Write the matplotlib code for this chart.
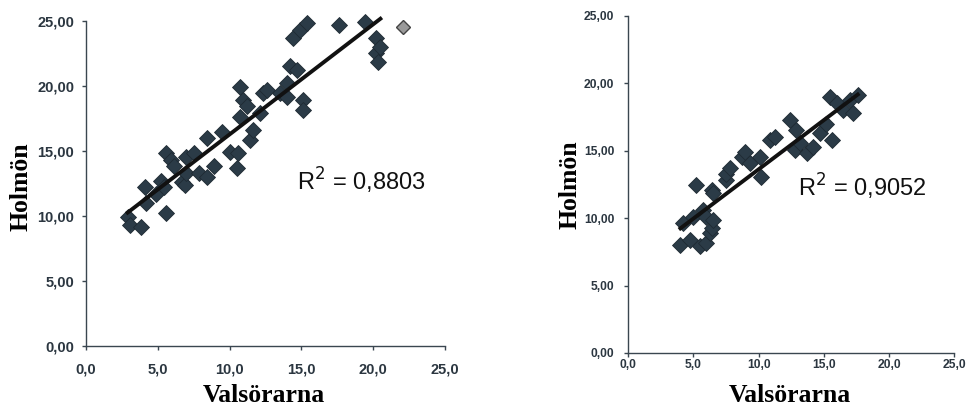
import numpy as np
import matplotlib
matplotlib.use('Agg')
import matplotlib.pyplot as plt
from matplotlib.ticker import FuncFormatter

# Left panel data (Valsörarna vs Holmön)
x_left = [2.9, 3.1, 3.8, 4.1, 4.2, 4.9, 5.2, 5.4, 5.6, 5.6, 5.9, 6.1, 6.7, 6.9,
          7.0, 7.0, 7.5, 7.9, 8.4, 8.4, 8.9, 9.5, 10.0, 10.5, 10.6, 10.7, 10.7,
          10.9, 11.2, 11.4, 11.6, 12.1, 12.3, 12.6, 13.5, 14.0, 14.0, 14.2,
          14.4, 14.7, 14.9, 15.1, 15.1, 15.4, 17.6, 19.4, 20.2, 20.2, 20.3, 20.5]
y_left = [9.9, 9.3, 9.1, 12.2, 11.0, 11.7, 12.7, 12.2, 10.2, 14.8, 14.3, 13.8, 12.6, 12.4,
          14.5, 13.3, 14.8, 13.3, 16.0, 13.0, 13.8, 16.4, 14.9, 13.7, 14.8, 19.9, 17.6,
          18.9, 18.4, 15.8, 16.6, 17.9, 19.4, 19.7, 19.4, 20.2, 19.1, 21.5,
          23.7, 21.2, 24.3, 18.9, 18.1, 24.8, 24.7, 24.9, 23.7, 22.5, 21.8, 23.0]
x_left_faded = [22.1]
y_left_faded = [24.5]

# Right panel data
x_right = [4.0, 4.2, 4.7, 5.0, 5.2, 5.5, 5.7, 6.0, 6.0, 6.3, 6.4, 6.4, 6.5, 6.5,
           7.5, 7.5, 7.8, 8.7, 8.95, 9.3, 10.1, 10.2, 10.9, 11.25, 12.4, 12.8,
           12.9, 13.2, 13.7, 14.2, 14.7, 15.2, 15.5, 15.6, 16.0, 16.5, 17.0, 17.2, 17.6]
y_right = [8.0, 9.6, 8.4, 10.1, 12.45, 7.9, 10.6, 8.15, 10.1, 8.9, 9.3, 12.1, 9.85, 11.85,
           12.8, 13.3, 13.7, 14.5, 14.9, 14.1, 14.5, 13.05, 15.8, 16.0, 17.3, 15.05,
           16.5, 15.55, 14.8, 15.3, 16.3, 17.0, 19.0, 15.8, 18.5, 18.0, 18.75, 17.8, 19.1]

r2_left = '0,8803'
r2_right = '0,9052'

marker_col = '#2b3b47'
tick_col = '#2b3640'

fig = plt.figure(figsize=(9.67, 4.05), dpi=100)
ax1 = fig.add_axes([0.0889, 0.1464, 0.3713, 0.8025])
ax2 = fig.add_axes([0.6497, 0.1284, 0.3371, 0.8328])


def style_axes(ax, tsize, xpad, ypad, ylab_pos, xlab_pos):
    ax.set_xlim(0, 25)
    ax.set_ylim(0, 25)
    ax.set_xticks(np.arange(0, 26, 5))
    ax.set_yticks(np.arange(0, 26, 5))
    ax.xaxis.set_major_formatter(FuncFormatter(lambda v, p: f'{v:.1f}'.replace('.', ',')))
    ax.yaxis.set_major_formatter(FuncFormatter(lambda v, p: f'{v:.2f}'.replace('.', ',')))
    for s in ['top', 'right']:
        ax.spines[s].set_visible(False)
    for s in ['left', 'bottom']:
        ax.spines[s].set_color('#3a4650')
        ax.spines[s].set_linewidth(1.0)
    ax.tick_params(colors='#3a4650', labelcolor=tick_col, labelsize=tsize,
                   length=3, width=1, direction='out')
    ax.tick_params(axis='x', pad=xpad)
    ax.tick_params(axis='y', pad=ypad)
    for lab in ax.get_xticklabels() + ax.get_yticklabels():
        lab.set_fontfamily('Liberation Sans')
        lab.set_fontweight('bold')
    ax.set_xlabel('Valsörarna', fontfamily='Liberation Serif', fontweight='bold',
                  fontsize=18.5, va='center')
    ax.set_ylabel('Holmön', fontfamily='Liberation Serif', fontweight='bold',
                  fontsize=18.5, va='center')
    ax.yaxis.set_label_coords(*ylab_pos)
    ax.xaxis.set_label_coords(*xlab_pos)


def draw(ax, xs, ys):
    ax.plot(xs, ys, linestyle='none', marker='D', markersize=8.5,
            color=marker_col, markeredgecolor='#1f2a33', markeredgewidth=0.6,
            zorder=3, clip_on=False)
    k, m = np.polyfit(xs, ys, 1)
    xx = np.array([min(xs), max(xs)])
    ax.plot(xx, k * xx + m, color='#111111', linewidth=2.8, zorder=4, clip_on=False)


draw(ax1, x_left, y_left)
ax1.plot(x_left_faded, y_left_faded, linestyle='none', marker='D', markersize=7,
         color='#9a9a9a', markeredgecolor='#444444', zorder=3, clip_on=False)
style_axes(ax1, 10.5, 9, 5.5, (-0.181, 0.49), (0.496, -0.152))
ax1.text(14.7, 12.7, f'R$^2$ = {r2_left}', fontfamily='Liberation Sans', fontsize=17,
         va='center', ha='left', color='#111111')

draw(ax2, x_right, y_right)
style_axes(ax2, 8.7, 1.5, 7, (-0.179, 0.498), (0.496, -0.125))
ax2.text(13.0, 12.3, f'R$^2$ = {r2_right}', fontfamily='Liberation Sans', fontsize=17,
         va='center', ha='left', color='#111111')

fig.savefig('out.png', dpi=100)
